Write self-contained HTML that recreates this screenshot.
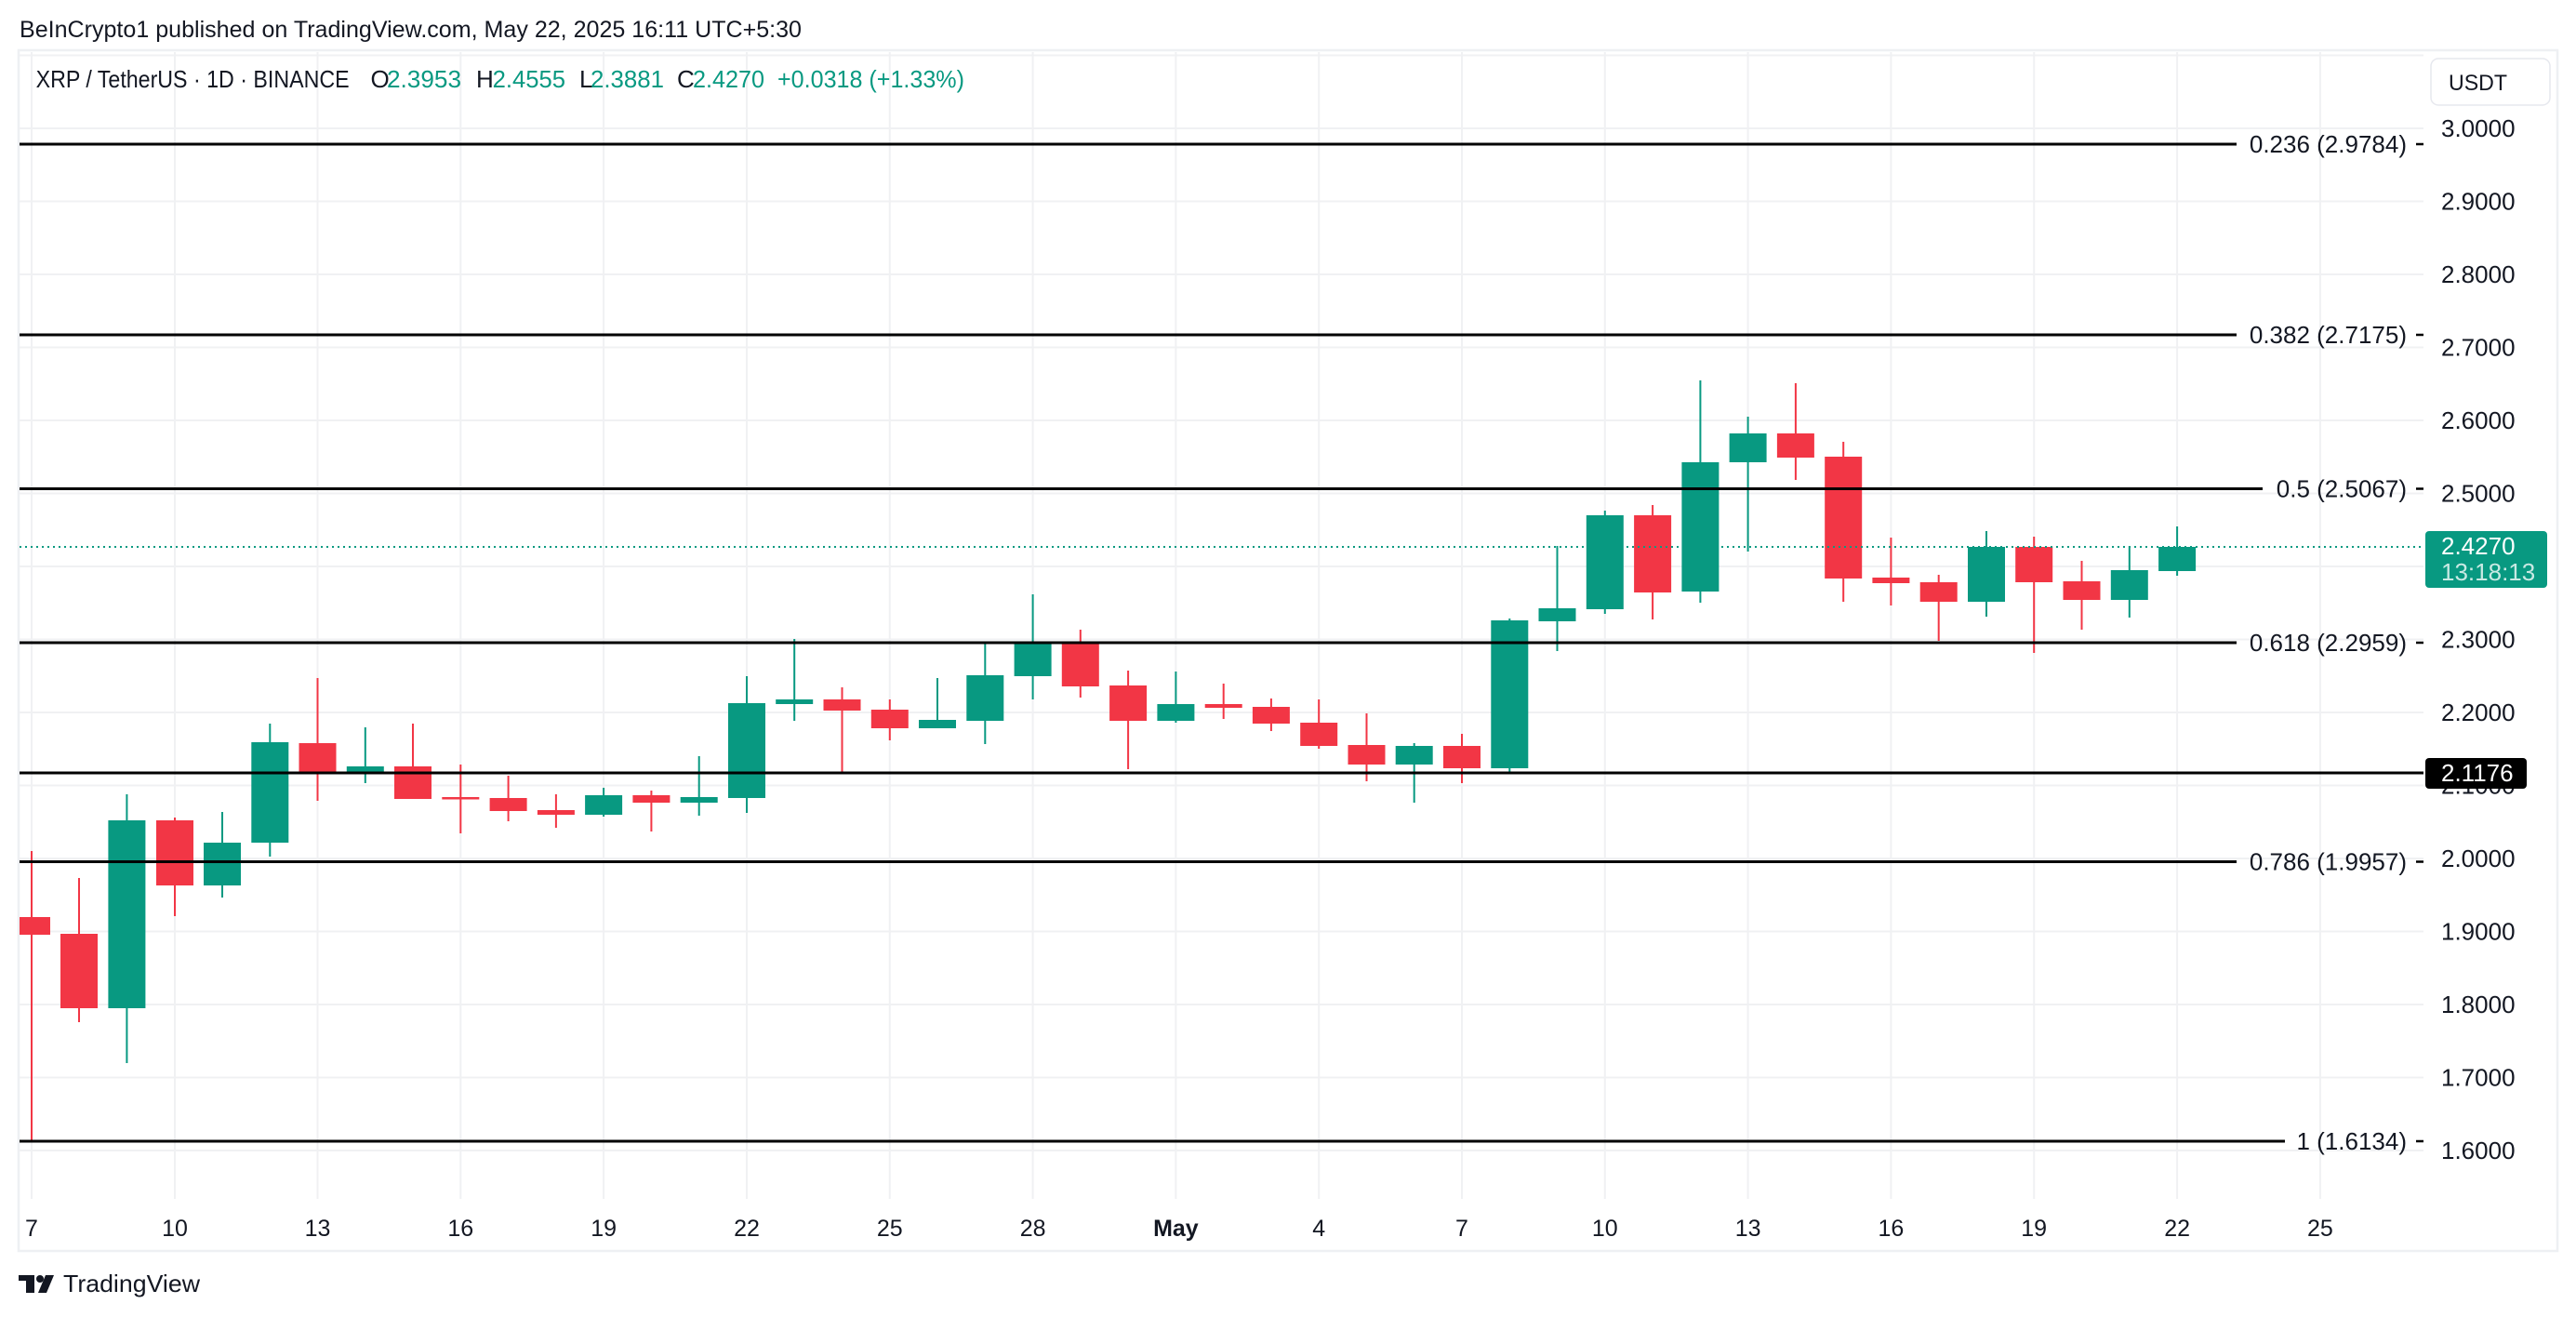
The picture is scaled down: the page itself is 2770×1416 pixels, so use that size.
<!DOCTYPE html>
<html>
<head>
<meta charset="utf-8">
<style>
html,body{margin:0;padding:0;background:#ffffff;}
svg{display:block;}
text{font-family:"Liberation Sans",Arial,sans-serif;}
</style>
</head>
<body>
<svg width="2770" height="1416" viewBox="0 0 2770 1416" xmlns="http://www.w3.org/2000/svg">
<rect x="0" y="0" width="2770" height="1416" fill="#ffffff"/>
<defs>
<clipPath id="pane"><rect x="21" y="56" width="2585" height="1233"/></clipPath>
</defs>

<!-- header -->
<text x="21" y="40" font-size="25" fill="#131722" textLength="841" lengthAdjust="spacingAndGlyphs">BeInCrypto1 published on TradingView.com, May 22, 2025 16:11 UTC+5:30</text>

<!-- frame -->
<rect x="20" y="54" width="2730" height="1291" fill="none" stroke="#eef0f3" stroke-width="2.5"/>

<!-- horizontal grid -->
<g stroke="#f0f1f3" stroke-width="2">
<line x1="21" y1="59.5" x2="2606" y2="59.5"/>
<line x1="21" y1="138" x2="2606" y2="138"/>
<line x1="21" y1="216.5" x2="2606" y2="216.5"/>
<line x1="21" y1="295" x2="2606" y2="295"/>
<line x1="21" y1="373.5" x2="2606" y2="373.5"/>
<line x1="21" y1="452" x2="2606" y2="452"/>
<line x1="21" y1="530.5" x2="2606" y2="530.5"/>
<line x1="21" y1="609" x2="2606" y2="609"/>
<line x1="21" y1="687.5" x2="2606" y2="687.5"/>
<line x1="21" y1="766" x2="2606" y2="766"/>
<line x1="21" y1="844.5" x2="2606" y2="844.5"/>
<line x1="21" y1="923" x2="2606" y2="923"/>
<line x1="21" y1="1001.5" x2="2606" y2="1001.5"/>
<line x1="21" y1="1080" x2="2606" y2="1080"/>
<line x1="21" y1="1158.5" x2="2606" y2="1158.5"/>
<line x1="21" y1="1237" x2="2606" y2="1237"/>
</g>
<!-- vertical grid -->
<g stroke="#f0f1f3" stroke-width="2">
<line x1="34" y1="56" x2="34" y2="1289"/>
<line x1="188" y1="56" x2="188" y2="1289"/>
<line x1="341.5" y1="56" x2="341.5" y2="1289"/>
<line x1="495.3" y1="56" x2="495.3" y2="1289"/>
<line x1="649.1" y1="56" x2="649.1" y2="1289"/>
<line x1="803" y1="56" x2="803" y2="1289"/>
<line x1="956.8" y1="56" x2="956.8" y2="1289"/>
<line x1="1110.6" y1="56" x2="1110.6" y2="1289"/>
<line x1="1264.4" y1="56" x2="1264.4" y2="1289"/>
<line x1="1418.2" y1="56" x2="1418.2" y2="1289"/>
<line x1="1572" y1="56" x2="1572" y2="1289"/>
<line x1="1725.8" y1="56" x2="1725.8" y2="1289"/>
<line x1="1879.6" y1="56" x2="1879.6" y2="1289"/>
<line x1="2033.4" y1="56" x2="2033.4" y2="1289"/>
<line x1="2187.2" y1="56" x2="2187.2" y2="1289"/>
<line x1="2341.1" y1="56" x2="2341.1" y2="1289"/>
<line x1="2494.9" y1="56" x2="2494.9" y2="1289"/>
</g>

<!-- symbol line -->
<g font-size="26">
<text x="38.6" y="94" fill="#131722" textLength="337" lengthAdjust="spacingAndGlyphs">XRP / TetherUS · 1D · BINANCE</text>
<text x="398.5" y="94" fill="#131722">O</text>
<text x="416" y="94" fill="#089981" textLength="80" lengthAdjust="spacingAndGlyphs">2.3953</text>
<text x="512" y="94" fill="#131722">H</text>
<text x="529.6" y="94" fill="#089981" textLength="78.4" lengthAdjust="spacingAndGlyphs">2.4555</text>
<text x="623" y="94" fill="#131722">L</text>
<text x="635" y="94" fill="#089981" textLength="79" lengthAdjust="spacingAndGlyphs">2.3881</text>
<text x="728" y="94" fill="#131722">C</text>
<text x="745" y="94" fill="#089981" textLength="77" lengthAdjust="spacingAndGlyphs">2.4270</text>
<text x="836" y="94" fill="#089981" textLength="201" lengthAdjust="spacingAndGlyphs">+0.0318 (+1.33%)</text>
</g>

<!-- candles -->
<g clip-path="url(#pane)">
<g fill="#F23645">
<!-- red candles: wick rect + body rect -->
<rect x="33" y="915" width="2" height="312"/><rect x="14" y="986" width="40" height="19"/>
<rect x="84" y="944" width="2" height="155"/><rect x="65" y="1004" width="40" height="80"/>
<rect x="187" y="879" width="2" height="106"/><rect x="168" y="882" width="40" height="70"/>
<rect x="340.5" y="729" width="2" height="132"/><rect x="321.5" y="799" width="40" height="31"/>
<rect x="443" y="778" width="2" height="81"/><rect x="424" y="824" width="40" height="35"/>
<rect x="494.3" y="822" width="2" height="74"/><rect x="475.3" y="857" width="40" height="2.5"/>
<rect x="545.6" y="834" width="2" height="49"/><rect x="526.6" y="858" width="40" height="14"/>
<rect x="596.9" y="854" width="2" height="36"/><rect x="577.9" y="871" width="40" height="5"/>
<rect x="699.4" y="850" width="2" height="44"/><rect x="680.4" y="855" width="40" height="8"/>
<rect x="904.5" y="739" width="2" height="93"/><rect x="885.5" y="752" width="40" height="12"/>
<rect x="955.8" y="752" width="2" height="44"/><rect x="936.8" y="763" width="40" height="20"/>
<rect x="1160.8" y="677" width="2" height="73"/><rect x="1141.8" y="691" width="40" height="47"/>
<rect x="1212.1" y="721" width="2" height="106"/><rect x="1193.1" y="737" width="40" height="38"/>
<rect x="1314.7" y="735" width="2" height="38"/><rect x="1295.7" y="757" width="40" height="4"/>
<rect x="1365.9" y="751" width="2" height="35"/><rect x="1346.9" y="760" width="40" height="18"/>
<rect x="1417.2" y="752" width="2" height="53"/><rect x="1398.2" y="777" width="40" height="25"/>
<rect x="1468.5" y="767" width="2" height="73"/><rect x="1449.5" y="801" width="40" height="21"/>
<rect x="1571" y="789" width="2" height="53"/><rect x="1552" y="802" width="40" height="24"/>
<rect x="1776.1" y="543" width="2" height="123"/><rect x="1757.1" y="554" width="40" height="83"/>
<rect x="1929.9" y="412" width="2" height="104"/><rect x="1910.9" y="466" width="40" height="26"/>
<rect x="1981.2" y="475" width="2" height="172"/><rect x="1962.2" y="491" width="40" height="131"/>
<rect x="2032.4" y="578" width="2" height="73"/><rect x="2013.4" y="621" width="40" height="6"/>
<rect x="2083.7" y="618" width="2" height="71"/><rect x="2064.7" y="626" width="40" height="21"/>
<rect x="2186.2" y="577" width="2" height="125"/><rect x="2167.2" y="588" width="40" height="38"/>
<rect x="2237.5" y="603" width="2" height="74"/><rect x="2218.5" y="625" width="40" height="20"/>
</g>
<g fill="#089981">
<rect x="135.4" y="854" width="2" height="289"/><rect x="116.4" y="882" width="40" height="202"/>
<rect x="238" y="873" width="2" height="92"/><rect x="219" y="906" width="40" height="46"/>
<rect x="289.3" y="778" width="2" height="143"/><rect x="270.3" y="798" width="40" height="108"/>
<rect x="391.8" y="782" width="2" height="60"/><rect x="372.8" y="824" width="40" height="6"/>
<rect x="648.1" y="847" width="2" height="31"/><rect x="629.1" y="855" width="40" height="21"/>
<rect x="750.7" y="813" width="2" height="64"/><rect x="731.7" y="857" width="40" height="6"/>
<rect x="802" y="727" width="2" height="147"/><rect x="783" y="756" width="40" height="102"/>
<rect x="853.2" y="687" width="2" height="88"/><rect x="834.2" y="752" width="40" height="5"/>
<rect x="1007" y="729" width="2" height="54"/><rect x="988" y="774" width="40" height="9"/>
<rect x="1058.3" y="691" width="2" height="109"/><rect x="1039.3" y="726" width="40" height="49"/>
<rect x="1109.6" y="639" width="2" height="113"/><rect x="1090.6" y="691" width="40" height="36"/>
<rect x="1263.4" y="722" width="2" height="55"/><rect x="1244.4" y="757" width="40" height="18"/>
<rect x="1519.7" y="799" width="2" height="64"/><rect x="1500.7" y="802" width="40" height="20"/>
<rect x="1622.3" y="665" width="2" height="167"/><rect x="1603.3" y="667" width="40" height="159"/>
<rect x="1673.5" y="587" width="2" height="113"/><rect x="1654.5" y="654" width="40" height="14"/>
<rect x="1724.8" y="549" width="2" height="111"/><rect x="1705.8" y="554" width="40" height="101"/>
<rect x="1827.4" y="409" width="2" height="239"/><rect x="1808.4" y="497" width="40" height="139"/>
<rect x="1878.6" y="448" width="2" height="145"/><rect x="1859.6" y="466" width="40" height="31"/>
<rect x="2135" y="571" width="2" height="92"/><rect x="2116" y="588" width="40" height="59"/>
<rect x="2288.8" y="587" width="2" height="77"/><rect x="2269.8" y="613" width="40" height="32"/>
<rect x="2340.1" y="566" width="2" height="53"/><rect x="2321.1" y="588" width="40" height="26"/>
</g>
</g>

<!-- fib lines -->
<g stroke="#000000" stroke-width="3">
<line x1="21" y1="155" x2="2405" y2="155"/>
<line x1="21" y1="360" x2="2405" y2="360"/>
<line x1="21" y1="525.5" x2="2433" y2="525.5"/>
<line x1="21" y1="691" x2="2405" y2="691"/>
<line x1="21" y1="926.5" x2="2405" y2="926.5"/>
<line x1="21" y1="1227" x2="2457" y2="1227"/>
<line x1="21" y1="831" x2="2606" y2="831"/>
</g>
<g stroke="#000000" stroke-width="2.5">
<line x1="2598" y1="155" x2="2606" y2="155"/>
<line x1="2598" y1="360" x2="2606" y2="360"/>
<line x1="2598" y1="525.5" x2="2606" y2="525.5"/>
<line x1="2598" y1="691" x2="2606" y2="691"/>
<line x1="2598" y1="926.5" x2="2606" y2="926.5"/>
<line x1="2598" y1="1227" x2="2606" y2="1227"/>
</g>
<g font-size="26" fill="#131722" text-anchor="end">
<text x="2588" y="164">0.236 (2.9784)</text>
<text x="2588" y="369">0.382 (2.7175)</text>
<text x="2588" y="534.5">0.5 (2.5067)</text>
<text x="2588" y="700">0.618 (2.2959)</text>
<text x="2588" y="935.5">0.786 (1.9957)</text>
<text x="2588" y="1236">1 (1.6134)</text>
</g>

<!-- current price dotted line -->
<line x1="21" y1="588" x2="2606" y2="588" stroke="#089981" stroke-width="2" stroke-dasharray="2 4"/>

<!-- price axis labels -->
<g font-size="26" fill="#131722">
<text x="2625" y="147">3.0000</text>
<text x="2625" y="225.5">2.9000</text>
<text x="2625" y="304">2.8000</text>
<text x="2625" y="382.5">2.7000</text>
<text x="2625" y="461">2.6000</text>
<text x="2625" y="539.5">2.5000</text>
<text x="2625" y="696.5">2.3000</text>
<text x="2625" y="775">2.2000</text>
<text x="2625" y="853.5">2.1000</text>
<text x="2625" y="932">2.0000</text>
<text x="2625" y="1010.5">1.9000</text>
<text x="2625" y="1089">1.8000</text>
<text x="2625" y="1167.5">1.7000</text>
<text x="2625" y="1246">1.6000</text>
</g>

<!-- USDT box -->
<rect x="2614" y="63" width="128" height="50" rx="8" fill="#ffffff" stroke="#e6e8ee" stroke-width="1.5"/>
<text x="2633" y="97" font-size="24" fill="#131722" textLength="63" lengthAdjust="spacingAndGlyphs">USDT</text>

<!-- current price tag -->
<rect x="2608" y="571" width="131" height="61" rx="4" fill="#089981"/>
<text x="2625" y="596" font-size="26" fill="#ffffff">2.4270</text>
<text x="2625" y="624" font-size="26" fill="#ffffff" fill-opacity="0.78">13:18:13</text>

<!-- black tag -->
<rect x="2608" y="815" width="109" height="33" rx="4" fill="#000000"/>
<text x="2625" y="840" font-size="26" fill="#ffffff">2.1176</text>

<!-- time axis labels -->
<g font-size="25" fill="#131722" text-anchor="middle">
<text x="34" y="1329">7</text>
<text x="188" y="1329">10</text>
<text x="341.5" y="1329">13</text>
<text x="495.3" y="1329">16</text>
<text x="649.1" y="1329">19</text>
<text x="803" y="1329">22</text>
<text x="956.8" y="1329">25</text>
<text x="1110.6" y="1329">28</text>
<text x="1264.4" y="1329" font-weight="bold">May</text>
<text x="1418.2" y="1329">4</text>
<text x="1572" y="1329">7</text>
<text x="1725.8" y="1329">10</text>
<text x="1879.6" y="1329">13</text>
<text x="2033.4" y="1329">16</text>
<text x="2187.2" y="1329">19</text>
<text x="2341.1" y="1329">22</text>
<text x="2494.9" y="1329">25</text>
</g>

<!-- TradingView logo -->
<g fill="#131722">
<rect x="20" y="1371" width="17" height="6"/>
<rect x="28" y="1371" width="9" height="19"/>
<circle cx="43" cy="1375" r="4"/>
<polygon points="49,1371 58,1371 50,1390 41,1390"/>
</g>
<text x="68" y="1389" font-size="26" fill="#131722" textLength="147" lengthAdjust="spacingAndGlyphs">TradingView</text>
</svg>
</body>
</html>
